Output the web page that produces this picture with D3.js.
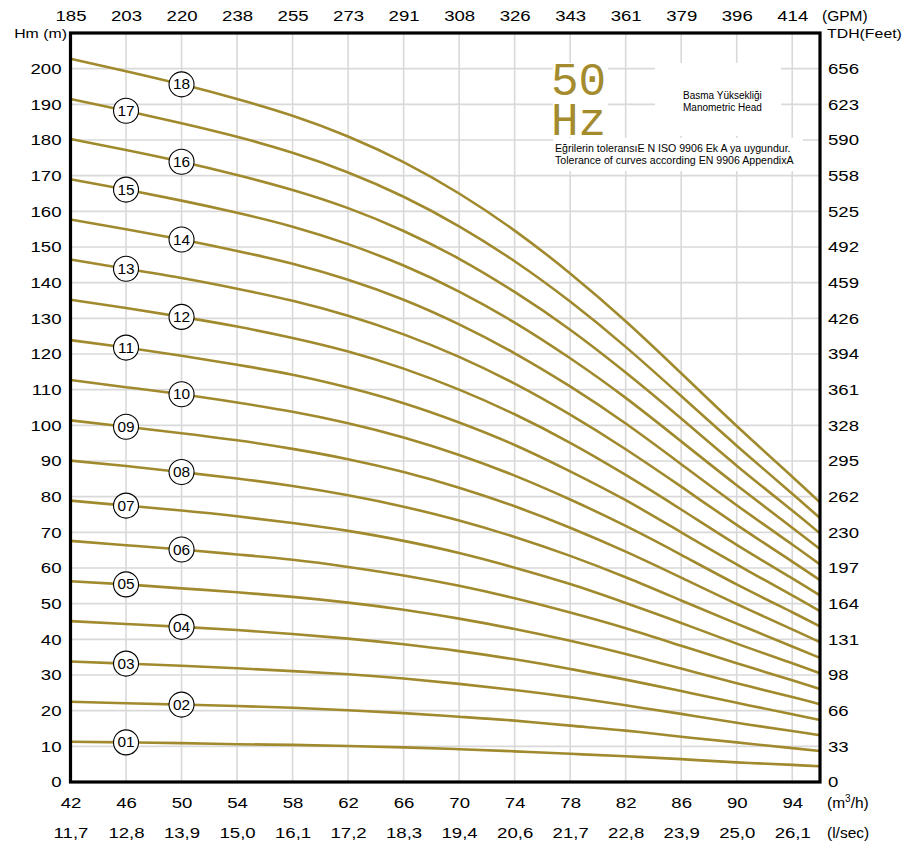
<!DOCTYPE html>
<html><head><meta charset="utf-8">
<script src="https://cdn.jsdelivr.net/npm/d3@7"></script>
<style>
html,body{margin:0;padding:0;background:#fff;}
svg{display:block;}
text{font-family:"Liberation Sans",Arial,sans-serif;fill:#000;}
</style></head><body>
<svg id="chart" width="915" height="843"></svg>
<script>
// ---- data ----
const flowPoints = [42,46,50,54,58,62,66,70,74,78,82,86,90,94,96];   // m3/h, curve sample points
const flowTicks  = [42,46,50,54,58,62,66,70,74,78,82,86,90,94];      // m3/h tick values
const gpmLabels  = ["185","203","220","238","255","273","291","308","326","343","361","379","396","414"];
const lsecLabels = ["11,7","12,8","13,9","15,0","16,1","17,2","18,3","19,4","20,6","21,7","22,8","23,9","25,0","26,1"];
const headTicks  = [0,10,20,30,40,50,60,70,80,90,100,110,120,130,140,150,160,170,180,190,200];
const feetLabels = ["0","33","66","98","131","164","197","230","262","295","328","361","394","426","459","492","525","558","590","623","656"];
const stageNames = ["01","02","03","04","05","06","07","08","09","10","11","12","13","14","15","16","17","18"];

// head (m) of each stage count at flowPoints
const h01 = [11.3,11.1,10.9,10.6,10.4,10.1,9.7,9.2,8.6,7.9,7.2,6.4,5.5,4.8,4.4];
const h02 = [22.5,22.1,21.7,21.3,20.8,20.1,19.3,18.3,17.2,15.8,14.4,12.7,11.1,9.5,8.7];
const h03 = [33.8,33.2,32.6,31.9,31.1,30.2,29.0,27.5,25.8,23.8,21.5,19.1,16.6,14.3,13.1];
const h04 = [45.1,44.3,43.5,42.6,41.5,40.2,38.6,36.7,34.4,31.7,28.7,25.5,22.2,19.0,17.4];
const h05 = [56.3,55.4,54.3,53.2,51.9,50.3,48.3,45.8,42.9,39.6,35.9,31.8,27.7,23.8,21.8];
const h06 = [67.6,66.4,65.2,63.8,62.3,60.3,57.9,55.0,51.5,47.5,43.1,38.2,33.3,28.5,26.1];
const h07 = [78.9,77.5,76.1,74.5,72.6,70.4,67.6,64.2,60.1,55.5,50.2,44.6,38.8,33.3,30.5];
const h08 = [90.1,88.6,86.9,85.1,83.0,80.4,77.2,73.3,68.7,63.4,57.4,50.9,44.4,38.0,34.8];
const h09 = [101.4,99.6,97.8,95.8,93.4,90.5,86.9,82.5,77.3,71.3,64.6,57.3,49.9,42.8,39.2];
const h10 = [112.7,110.7,108.7,106.4,103.8,100.6,96.6,91.7,85.9,79.2,71.8,63.7,55.4,47.6,43.6];
const h11 = [123.9,121.8,119.5,117.0,114.2,110.6,106.2,100.8,94.5,87.1,79.0,70.0,61.0,52.3,47.9];
const h12 = [135.2,132.9,130.4,127.7,124.5,120.7,115.9,110.0,103.1,95.1,86.1,76.4,66.5,57.1,52.3];
const h13 = [146.5,143.9,141.3,138.3,134.9,130.7,125.5,119.2,111.7,103.0,93.3,82.8,72.1,61.8,56.6];
const h14 = [157.7,155.0,152.1,148.9,145.3,140.8,135.2,128.3,120.2,110.9,100.5,89.1,77.6,66.6,61.0];
const h15 = [169.0,166.1,163.0,159.6,155.7,150.8,144.8,137.5,128.8,118.8,107.7,95.5,83.2,71.3,65.3];
const h16 = [180.3,177.2,173.9,170.2,166.0,160.9,154.5,146.7,137.4,126.8,114.8,101.9,88.7,76.1,69.7];
const h17 = [191.5,188.2,184.7,180.9,176.4,170.9,164.1,155.8,146.0,134.7,122.0,108.2,94.3,80.8,74.0];
const h18 = [202.8,199.3,195.6,191.5,186.8,181.0,173.8,165.0,154.6,142.6,129.2,114.6,99.8,85.6,78.4];
const stageCurves = [h01,h02,h03,h04,h05,h06,h07,h08,h09,h10,h11,h12,h13,h14,h15,h16,h17,h18];

// ---- layout ----
const plot = {left:70.5, right:820, top:33, bottom:782};
const curveColor = "#a08a2d";
const gridColor = "#d9d9d9";
const numSize = 15.5, numStretch = 1.2;

const svg = d3.select("#chart");
const x = d3.scaleLinear().domain([42,96]).range([plot.left, plot.right]);
const y = d3.scaleLinear().domain([0,210]).range([plot.bottom, plot.top]);

function stretch(sel, sx){
  sel.each(function(){
    const t = d3.select(this);
    const tx = +t.attr("x") || 0, ty = +t.attr("y") || 0;
    t.attr("x",0).attr("y",0).attr("transform",`translate(${tx},${ty}) scale(${sx},1)`);
  });
}

// grid
const grid = svg.append("g");
grid.selectAll("line.v").data(flowTicks.slice(1)).join("line")
  .attr("x1",d=>x(d)).attr("x2",d=>x(d)).attr("y1",plot.top).attr("y2",plot.bottom)
  .attr("stroke",gridColor).attr("stroke-width",1.6);
grid.selectAll("line.h").data(headTicks.slice(1)).join("line")
  .attr("y1",d=>y(d)).attr("y2",d=>y(d)).attr("x1",plot.left).attr("x2",plot.right)
  .attr("stroke",gridColor).attr("stroke-width",1.6);

// white backgrounds of annotation texts
const boxes = [
  {x0:553,y0:63,x1:608,y1:137},
  {x0:655,y0:63,x1:781,y1:136},
  {x0:553,y0:138,x1:803,y1:171}
];
svg.append("g").selectAll("rect").data(boxes).join("rect")
  .attr("x",d=>d.x0).attr("y",d=>d.y0).attr("width",d=>d.x1-d.x0).attr("height",d=>d.y1-d.y0)
  .attr("fill","#fff");

// annotation texts
const ann = svg.append("g");
const hz = ann.append("text").attr("x",551).attr("y",95)
  .style("font-family","'Liberation Mono','Courier New',monospace").attr("font-size",46).style("fill","#a38b2e");
hz.append("tspan").attr("x",551).attr("y",95).text("50");
hz.append("tspan").attr("x",551).attr("y",135).text("Hz");
ann.append("text").attr("x",683).attr("y",99).attr("font-size",10).text("Basma Yüksekliği");
ann.append("text").attr("x",683).attr("y",111).attr("font-size",10).text("Manometric Head");
ann.append("text").attr("x",555).attr("y",151.5).attr("font-size",10.6).text("Eğrilerin toleransıE N ISO 9906 Ek A ya uygundur.");
ann.append("text").attr("x",555).attr("y",163.5).attr("font-size",10.6).text("Tolerance of curves according EN 9906 AppendixA");

// curves
const line = d3.line().x((d,i)=>x(flowPoints[i])).y(d=>y(d)).curve(d3.curveNatural);
svg.append("g").selectAll("path").data(stageCurves).join("path")
  .attr("d",line).attr("fill","none").attr("stroke",curveColor).attr("stroke-width",2.6);

// stage labels
const lab = svg.append("g").selectAll("g").data(stageCurves).join("g")
  .attr("transform",(d,i)=>{
    const idx = (i % 2 === 0) ? 1 : 2; // odd stages at 46 m3/h, even at 50 m3/h
    return `translate(${x(flowPoints[idx])},${y(d[idx])})`;
  });
lab.append("circle").attr("r",12.5).attr("fill","#fff").attr("stroke","#000").attr("stroke-width",1.1);
lab.append("text").attr("text-anchor","middle").attr("dy","0.36em").attr("font-size",14)
  .text((d,i)=>stageNames[i]).call(stretch,1.1);

// frame
svg.append("rect").attr("x",plot.left).attr("y",plot.top)
  .attr("width",plot.right-plot.left).attr("height",plot.bottom-plot.top)
  .attr("fill","none").attr("stroke","#000").attr("stroke-width",3.2);

// axes
function styleAxis(g){
  g.select(".domain").remove();
  g.attr("font-family",null).attr("font-size",null);
  g.selectAll("text").attr("font-size",numSize).call(stretch,numStretch);
}
svg.append("g").attr("transform",`translate(${plot.left},0)`)
  .call(d3.axisLeft(y).tickValues(headTicks).tickSize(0).tickPadding(9).tickFormat(d3.format("d")))
  .call(styleAxis);
svg.append("g").attr("transform",`translate(${plot.right},0)`)
  .call(d3.axisRight(y).tickValues(headTicks).tickSize(0).tickPadding(8).tickFormat((d,i)=>feetLabels[i]))
  .call(styleAxis);
svg.append("g").attr("transform",`translate(0,${plot.top})`)
  .call(d3.axisTop(x).tickValues(flowTicks).tickSize(0).tickPadding(12.5).tickFormat((d,i)=>gpmLabels[i]))
  .call(styleAxis);
svg.append("g").attr("transform",`translate(0,${plot.bottom})`)
  .call(d3.axisBottom(x).tickValues(flowTicks).tickSize(0).tickPadding(15).tickFormat(d3.format("d")))
  .call(styleAxis);
svg.append("g").attr("transform",`translate(0,${plot.bottom})`)
  .call(d3.axisBottom(x).tickValues(flowTicks).tickSize(0).tickPadding(45).tickFormat((d,i)=>lsecLabels[i]))
  .call(styleAxis);

// axis titles
const titles = svg.append("g");
titles.append("text").attr("x",67).attr("y",37.5).attr("text-anchor","end").attr("font-size",13)
  .text("Hm (m)").call(stretch,1.22);
titles.append("text").attr("x",827).attr("y",38).attr("font-size",13)
  .text("TDH(Feet)").call(stretch,1.22);
titles.append("text").attr("x",822).attr("y",20.5).attr("font-size",numSize).text("(GPM)");
const m3 = titles.append("text").attr("x",827).attr("y",808).attr("font-size",numSize);
m3.append("tspan").text("(m");
m3.append("tspan").attr("font-size",10).attr("dy",-6).text("3");
m3.append("tspan").attr("dy",6).text("/h)");
titles.append("text").attr("x",827).attr("y",838).attr("font-size",numSize).text("(l/sec)");
</script>
</body></html>
